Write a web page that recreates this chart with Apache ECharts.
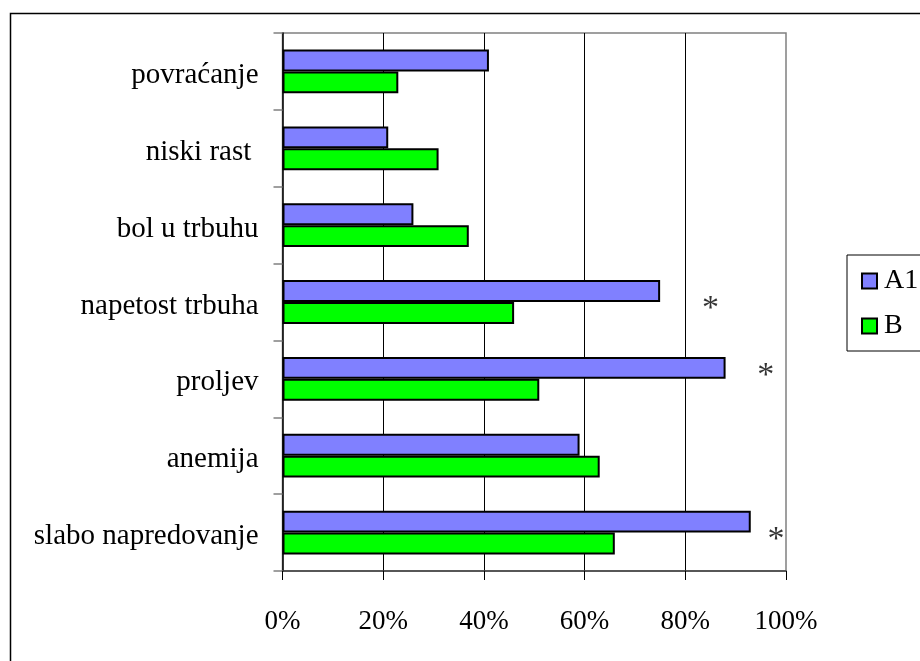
<!DOCTYPE html>
<html>
<head>
<meta charset="utf-8">
<script src="https://cdn.jsdelivr.net/npm/echarts@6/dist/echarts.min.js"></script>
<style>
  html, body { margin: 0; padding: 0; background: #fff; }
  #myChart { width: 920px; height: 661px; }
</style>
</head>
<body>
<div id="myChart"></div>
<script>
// categories top -> bottom
const categories = ["povraćanje", "niski rast ", "bol u trbuhu", "napetost trbuha", "proljev", "anemija", "slabo napredovanje"];
const seriesNames = ["A1", "B"];
const valuesA1 = [41, 21, 26, 75, 88, 59, 93];
const valuesB = [23, 31, 37, 46, 51, 63, 66];
// significance marks (*) : [x value, category]
const starMarks = [[85, "napetost trbuha"], [96, "proljev"], [98, "slabo napredovanje"]];
const xTicks = [0, 20, 40, 60, 80, 100];

const FONT = '"Liberation Serif", "Times New Roman", serif';
const starNudge = [7, -3, 8]; // small vertical shift of each * label

let myChart = echarts.init(document.getElementById("myChart"));

const barStyle = color => ({
  color: color,
  borderColor: "#000",
  borderWidth: 2
});

myChart.setOption({
  animation: false,
  textStyle: { fontFamily: FONT },
  grid: {
    left: 282.5,
    right: 134,
    top: 33,
    bottom: 90,
    show: true,
    borderColor: "#808080",
    borderWidth: 1.5
  },
  legend: {
    orient: "vertical",
    left: 856,
    top: 261,
    itemWidth: 15,
    itemHeight: 15,
    itemGap: 15,
    icon: "rect",
    data: seriesNames,
    textStyle: { fontFamily: FONT, fontSize: 28, color: "#000", lineHeight: 30, padding: [0, 0, 0, 2] }
  },
  xAxis: {
    type: "value",
    min: xTicks[0],
    max: xTicks[xTicks.length - 1],
    interval: 20,
    axisLine: { show: true, lineStyle: { color: "#404040", width: 1.5 } },
    axisTick: { show: true, length: 9, lineStyle: { color: "#000" } },
    axisLabel: {
      margin: 37,
      fontFamily: FONT,
      fontSize: 27,
      color: "#000",
      formatter: v => v + "%"
    },
    splitLine: { show: true, showMinLine: false, showMaxLine: false, lineStyle: { color: "#000", width: 1 } }
  },
  yAxis: {
    type: "category",
    inverse: true,
    data: categories,
    axisLine: { show: true, lineStyle: { color: "#000", width: 1.5 } },
    axisTick: { show: true, length: 9, lineStyle: { color: "#808080", width: 1.5 } },
    axisLabel: {
      margin: 24,
      formatter: "{a|{value}}",
      rich: {
        a: { fontFamily: FONT, fontSize: 29, color: "#000", padding: [8, 0, 0, 0] }
      }
    }
  },
  graphic: [
    {
      type: "rect",
      shape: { x: 10.5, y: 13.5, width: 940, height: 700 },
      style: { fill: "none", stroke: "#000", lineWidth: 1.5 },
      silent: true
    },
    {
      type: "rect",
      shape: { x: 847, y: 255, width: 100, height: 96 },
      style: { fill: "#fff", stroke: "#000", lineWidth: 1 },
      silent: true,
      z: -1
    }
  ],
  series: [
    {
      name: seriesNames[0],
      type: "bar",
      data: valuesA1,
      barGap: "0%",
      barCategoryGap: "43%",
      itemStyle: barStyle("#8080ff")
    },
    {
      name: seriesNames[1],
      type: "bar",
      data: valuesB,
      barGap: "0%",
      barCategoryGap: "43%",
      itemStyle: barStyle("#00ff00")
    },
    {
      type: "scatter",
      data: starMarks.map((d, i) => ({
        value: d,
        label: { offset: [0, starNudge[i]] }
      })),
      symbolSize: 1,
      itemStyle: { color: "transparent" },
      label: {
        show: true,
        position: "inside",
        formatter: "*",
        fontFamily: FONT,
        fontSize: 34,
        color: "#000"
      },
      silent: true
    }
  ]
});
</script>
</body>
</html>
